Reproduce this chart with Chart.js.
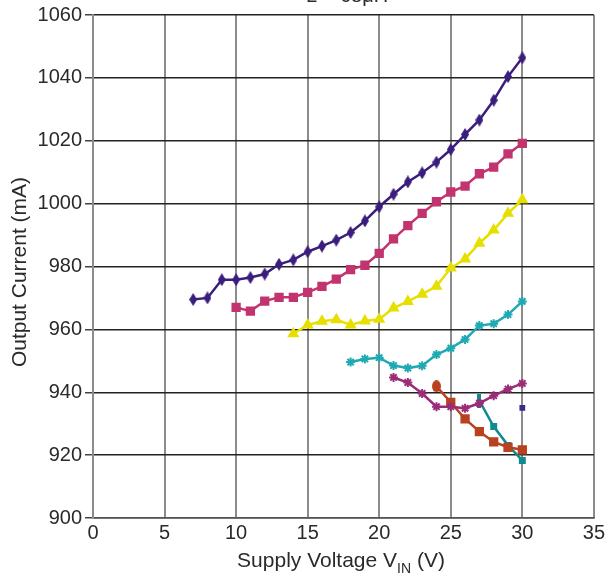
<!DOCTYPE html>
<html>
<head>
<meta charset="utf-8">
<script src="https://cdn.jsdelivr.net/npm/chart.js@4/dist/chart.umd.min.js"></script>
<style>
html,body{margin:0;padding:0;background:#fff;}
#wrap{width:608px;height:582px;position:relative;}
</style>
</head>
<body>
<div id="wrap"><canvas id="c" width="608" height="582"></canvas></div>
<script>
// Data
const v1 = [7,8,9,10,11,12,13,14,15,16,17,18,19,20,21,22,23,24,25,26,27,28,29,30];
const i1 = [969.5,970,975.8,975.8,976.5,977.6,980.7,982.1,984.7,986.5,988.4,990.8,994.5,999,1003,1006.9,1009.8,1013.2,1017.2,1022,1026.6,1032.9,1040.4,1046.4];
const v2 = [10,11,12,13,14,15,16,17,18,19,20,21,22,23,24,25,26,27,28,29,30];
const i2 = [967,965.8,969,970.2,970.2,971.8,973.7,976,979,980.4,984.2,988.8,993,996.9,1000.6,1003.7,1005.6,1009.5,1011.6,1015.8,1019.2];
const v3 = [14,15,16,17,18,19,20,21,22,23,24,25,26,27,28,29,30];
const i3 = [958.6,961.4,962.6,963.1,961.4,962.7,963.2,966.8,968.9,971.2,973.7,979.5,982.4,987.4,991.6,996.9,1001.2];
const v4 = [18,19,20,21,22,23,24,25,26,27,28,29,30];
const i4 = [949.6,950.6,951,948.5,947.7,948.4,952,954,956.8,961.2,961.8,964.7,968.9];
const v5 = [21,22,23,24,25,26,27,28,29,30];
const i5 = [944.7,943.1,939.6,935.4,935.4,934.9,936.5,938.9,941,942.8];
const v6 = [24,25,26,27,28,29,30];
const i6 = [941.9,936.8,931.5,927.5,924.2,922.5,921.7];
const v7 = [27,28,29,30];
const i7 = [937.3,929.1,923.1,918.3];
const v8 = [30];
const i8 = [935];

const xTicks = [0,5,10,15,20,25,30,35];
const yTicks = [900,920,940,960,980,1000,1020,1040,1060];

const xy = (vs, is) => vs.map((v, k) => ({x: v, y: is[k]}));

function marker(color, w, h, draw) {
  const c = document.createElement('canvas');
  c.width = w; c.height = h;
  const g = c.getContext('2d');
  g.fillStyle = color; g.strokeStyle = color;
  draw(g, w, h);
  return c;
}
function diamond(color) {
  return marker(color, 8, 13, (g, w, h) => {
    g.beginPath(); g.moveTo(w/2, 0); g.lineTo(w, h/2); g.lineTo(w/2, h); g.lineTo(0, h/2); g.closePath(); g.fill();
  });
}
function oval(color) {
  return marker(color, 9, 12, (g, w, h) => {
    g.beginPath(); g.ellipse(w/2, h/2, w/2, h/2, 0, 0, Math.PI*2); g.fill();
  });
}
function vbar(color) {
  return marker(color, 4, 14, (g, w, h) => { g.fillRect(0, 0, w, h); });
}

function ds(vs, is, color, style, radius, extra) {
  return Object.assign({
    data: xy(vs, is),
    borderColor: color,
    backgroundColor: color,
    pointBackgroundColor: color,
    pointBorderColor: color,
    borderWidth: 2.5,
    pointStyle: style,
    pointRadius: radius,
    pointBorderWidth: 1.5,
    showLine: true,
    tension: 0,
    fill: false
  }, extra || {});
}

const FONT = '"Liberation Sans", Arial, sans-serif';
const TXT = '#2a2a2a';

const titles = {
  id: 'titles',
  afterDraw(chart) {
    const ctx = chart.ctx;
    ctx.save();
    ctx.fillStyle = TXT;
    ctx.font = '20px ' + FONT;
    ctx.textAlign = 'left';
    ctx.textBaseline = 'alphabetic';
    ctx.fillText('L = 68μH', 306, 2);
    ctx.save();
    ctx.translate(20, 272);
    ctx.rotate(-Math.PI / 2);
    ctx.textAlign = 'center';
    ctx.textBaseline = 'middle';
    ctx.font = '21px ' + FONT;
    ctx.fillText('Output Current (mA)', 0, 0);
    ctx.restore();
    const a = 'Supply Voltage V', sub = 'IN', b = ' (V)';
    ctx.font = '21px ' + FONT;
    const wa = ctx.measureText(a).width, wb = ctx.measureText(b).width;
    ctx.font = '14px ' + FONT;
    const ws = ctx.measureText(sub).width;
    const total = wa + ws + wb;
    let x = 341 - total / 2;
    const y = 567;
    ctx.textAlign = 'left';
    ctx.textBaseline = 'alphabetic';
    ctx.font = '21px ' + FONT;
    ctx.fillText(a, x, y);
    x += wa;
    ctx.font = '14px ' + FONT;
    ctx.fillText(sub, x, y + 6);
    x += ws;
    ctx.font = '21px ' + FONT;
    ctx.fillText(b, x, y);
    ctx.restore();
  }
};

const c1 = '#3a1d7c', c6 = '#b8421f', c7 = '#0e8b90';

new Chart(document.getElementById('c'), {
  type: 'scatter',
  data: {
    datasets: [
      ds(v1, i1, c1, diamond(c1), 5),
      ds(v2, i2, '#c2346f', 'rect', 5.5),
      ds(v3, i3, '#e6df00', 'triangle', 5.5),
      ds(v4, i4, '#1fa9b3', 'star', 4.5, {pointBorderWidth: 2}),
      ds(v5, i5, '#9a2c78', 'star', 4.5, {pointBorderWidth: 2}),
      ds(v6, i6, c6, v6.map((v, k) => k === 0 ? oval(c6) : 'rect'), 5.5),
      ds(v7, i7, c7, v7.map((v, k) => k === 0 ? vbar(c7) : 'rect'), 3.5, {pointBorderWidth: 2}),
      ds(v8, i8, '#3d2a8a', 'rect', 3, {showLine: false})
    ]
  },
  options: {
    responsive: false,
    animation: false,
    devicePixelRatio: 1,
    layout: {padding: {top: 12, right: 11, left: 0, bottom: 0}},
    plugins: {legend: {display: false}, tooltip: {enabled: false}, title: {display: false}},
    scales: {
      x: {
        type: 'linear',
        min: 0, max: 35,
        afterBuildTicks: (s) => { s.ticks = xTicks.map(v => ({value: v})); },
        afterFit: (s) => { s.height = 64; },
        grid: {color: '#8c8c8c', lineWidth: 2, drawTicks: false},
        border: {display: true, color: '#555', width: 1.5},
        ticks: {color: TXT, font: {family: FONT, size: 20}, padding: 3, maxRotation: 0, autoSkip: false, callback: (v) => String(v)}
      },
      y: {
        type: 'linear',
        min: 900, max: 1060,
        afterBuildTicks: (s) => { s.ticks = yTicks.map(v => ({value: v})); },
        afterFit: (s) => { s.width = 93; },
        grid: {color: '#222', lineWidth: 1.5, drawTicks: true, tickLength: 8, tickColor: '#444', tickWidth: 1.5},
        border: {display: true, color: '#8c8c8c', width: 2},
        ticks: {color: TXT, font: {family: FONT, size: 20}, padding: 3, autoSkip: false, callback: (v) => String(v)}
      }
    }
  },
  plugins: [titles]
});
</script>
</body>
</html>
